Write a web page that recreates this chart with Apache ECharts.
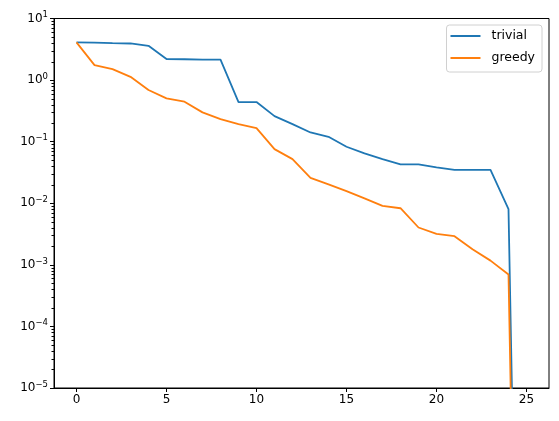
<!DOCTYPE html>
<html>
<head>
<meta charset="utf-8">
<script src="https://cdn.jsdelivr.net/npm/echarts@6/dist/echarts.min.js"></script>
<style>html,body{margin:0;padding:0;background:#fff;}#c{width:559px;height:421px;}</style>
</head>
<body>
<div id="c"></div>
<script>
const xValues = [0,1,2,3,4,5,6,7,8,9,10,11,12,13,14,15,16,17,18,19,20,21,22,23,24,25];
const trivial = [4.1,4.05,3.97,3.93,3.6,2.2,2.18,2.15,2.15,0.44,0.44,0.26,0.193,0.141,0.12,0.0826,0.0645,0.0522,0.0427,0.0427,0.0382,0.0349,0.0349,0.0349,0.0080,4e-18];
const greedy = [4.1,1.75,1.51,1.13,0.689,0.505,0.445,0.299,0.233,0.193,0.166,0.0757,0.052,0.0259,0.0202,0.0157,0.0120,0.00908,0.0083,0.00404,0.00318,0.00292,0.00179,0.00117,0.000695,3e-19];
const xTicks = [0,5,10,15,20,25];
const yTicks = [1e-5,1e-4,1e-3,1e-2,1e-1,1,10];
const seriesNames = ['trivial','greedy'];

const minorTicks = [];
for (let e = -5; e < 1; e++) for (let m = 2; m <= 9; m++) minorTicks.push(m * Math.pow(10, e));

const X_MIN = -1.25, X_MAX = 26.25;
const FONT = 'DejaVu Sans';
const chart = echarts.init(document.getElementById('c'), null, {renderer: 'canvas'});
function supFmt(v) {
  const e = Math.round(Math.log10(v));
  const s = e < 0 ? '\u2212' + (-e) : String(e);
  return '{b|10}{s|' + s + '}';
}
chart.setOption({
  animation: false,
  textStyle: {fontFamily: FONT},
  grid: {left: 54, right: 10, top: 18.5, bottom: 33, show: true, borderColor: '#000', borderWidth: 1, containLabel: false},
  legend: {
    orient: 'vertical', right: 17, top: 25, padding: [4, 7, 7, 4], itemGap: 8,
    itemWidth: 30, itemHeight: 2, icon: 'rect',
    backgroundColor: 'rgba(255,255,255,0.8)', borderColor: '#d0d0d0', borderWidth: 1, borderRadius: 3,
    textStyle: {fontFamily: FONT, fontSize: 12.5, color: '#000', padding: [0,0,0,6], lineHeight: 14},
    data: seriesNames
  },
  xAxis: {
    type: 'value', min: X_MIN, max: X_MAX,
    splitLine: {show: false},
    axisLine: {show: true, onZero: false, lineStyle: {color: '#000', width: 1}},
    axisTick: {show: true, length: 4, inside: false, customValues: xTicks, lineStyle: {color: '#000'}},
    axisLabel: {customValues: xTicks, color: '#000', fontFamily: FONT, fontSize: 12, margin: 6}
  },
  yAxis: {
    type: 'log', logBase: 10, min: 1e-5, max: 10, position: 'left',
    splitLine: {show: false}, minorTick: {show: false},
    axisLine: {show: true, onZero: false, lineStyle: {color: '#000', width: 1}},
    axisTick: {show: true, length: 4, customValues: yTicks, lineStyle: {color: '#000'}},
    axisLabel: {customValues: yTicks, formatter: supFmt, margin: 6, color: '#000',
      rich: {
        b: {fontFamily: FONT, fontSize: 12, color: '#000'},
        s: {fontFamily: FONT, fontSize: 8.5, color: '#000', verticalAlign: 'top', padding: [0,0,7,0]}
      }}
  },
  series: [
    {name: seriesNames[0], type: 'line', showSymbol: false, symbol: 'none', clip: true,
     lineStyle: {color: '#1f77b4', width: 1.8}, itemStyle: {color: '#1f77b4'},
     data: xValues.map((x, i) => [x, trivial[i]])},
    {name: seriesNames[1], type: 'line', showSymbol: false, symbol: 'none', clip: true,
     lineStyle: {color: '#ff7f0e', width: 1.8}, itemStyle: {color: '#ff7f0e'},
     data: xValues.map((x, i) => [x, greedy[i]])},
    {name: 'minorTicks', type: 'custom', clip: false, silent: true, z: 5,
     data: minorTicks.map(v => [X_MIN, v]),
     encode: {x: 0, y: 1},
     renderItem: function (params, api) {
       const p = api.coord([api.value(0), api.value(1)]);
       const y = Math.round(p[1]) + 0.5;
       const x0 = Math.round(p[0]);
       return {type: 'line', shape: {x1: x0 - 2.5, y1: y, x2: x0, y2: y},
               style: {stroke: '#000', lineWidth: 1}};
     }}
  ]
});
</script>
</body>
</html>
